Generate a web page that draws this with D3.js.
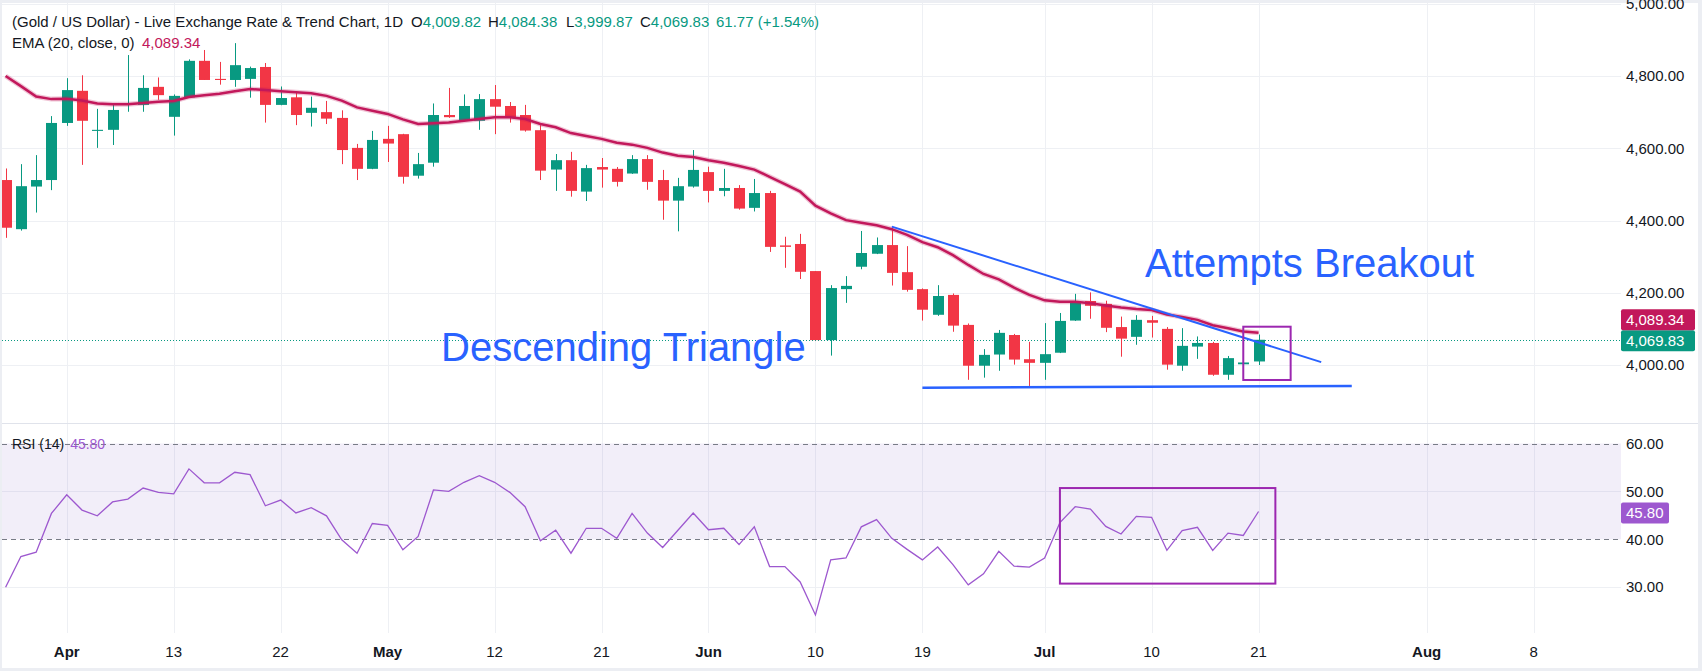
<!DOCTYPE html>
<html>
<head>
<meta charset="utf-8">
<script src="https://cdn.jsdelivr.net/npm/d3@7"></script>
<style>
  html, body { margin: 0; padding: 0; background: #eceef3; }
  svg { display: block; font-family: "Liberation Sans", Arial, sans-serif; }
</style>
</head>
<body>
<svg id="chart" width="1702" height="671"></svg>
<script>
// daily candles, bar index 0..82 (last bar = Jul 21)
var opens = [4512, 4376, 4494, 4512, 4670, 4759, 4648, 4651, 4720, 4720, 4770, 4687, 4741, 4842, 4792, 4789, 4792, 4825, 4720, 4741,
  4698, 4700, 4684, 4601, 4543, 4626, 4639, 4524, 4560, 4692, 4676, 4676, 4736, 4717, 4692, 4650, 4541, 4567, 4480, 4548,
  4543, 4530, 4570, 4512, 4455, 4494, 4534, 4482, 4490, 4435, 4476, 4331, 4335, 4260, 4069, 4210, 4272, 4308, 4332, 4257,
  4210, 4139, 4194, 4111, 3998, 4029, 4083, 4016, 4006, 4034, 4123, 4177, 4169, 4105, 4078, 4124, 4100, 3998, 4051, 4061,
  3973, 4002, 4009.82];
var highs = [4544, 4556, 4581, 4689, 4794, 4802, 4709, 4722, 4858, 4802, 4796, 4749, 4846, 4872, 4839, 4891, 4826, 4836, 4771, 4753,
  4743, 4731, 4705, 4612, 4648, 4662, 4640, 4587, 4724, 4767, 4749, 4750, 4775, 4728, 4720, 4664, 4584, 4590, 4554, 4573,
  4548, 4581, 4581, 4540, 4518, 4595, 4549, 4543, 4498, 4515, 4482, 4355, 4363, 4260, 4221, 4246, 4371, 4353, 4381, 4329,
  4212, 4221, 4198, 4115, 4044, 4097, 4086, 4064, 4116, 4144, 4197, 4201, 4178, 4134, 4138, 4136, 4105, 4102, 4079, 4064,
  4025, 4043, 4084.38];
var lows = [4352, 4372, 4422, 4484, 4662, 4554, 4601, 4609, 4701, 4701, 4734, 4635, 4740, 4789, 4776, 4770, 4740, 4671, 4719, 4664,
  4660, 4667, 4556, 4512, 4542, 4562, 4502, 4516, 4549, 4684, 4675, 4651, 4639, 4671, 4646, 4512, 4482, 4466, 4454, 4491,
  4494, 4529, 4485, 4402, 4370, 4491, 4450, 4467, 4430, 4425, 4313, 4269, 4238, 4069, 4026, 4172, 4265, 4307, 4220, 4203,
  4123, 4136, 4092, 3959, 3965, 3984, 4001, 3942, 3959, 4033, 4122, 4128, 4091, 4023, 4056, 4076, 3987, 3984, 4017, 3970,
  3959, 3986, 3999.87];
var closes = [4380, 4495, 4512, 4670, 4761, 4676, 4651, 4706, 4723, 4767, 4747, 4745, 4842, 4789, 4789, 4830, 4822, 4720, 4739, 4692,
  4712, 4682, 4595, 4543, 4623, 4613, 4521, 4556, 4692, 4686, 4717, 4736, 4715, 4686, 4649, 4538, 4567, 4482, 4545, 4541,
  4507, 4570, 4507, 4455, 4495, 4540, 4482, 4490, 4433, 4476, 4327, 4327, 4258, 4069, 4213, 4219, 4310, 4332, 4255, 4208,
  4153, 4191, 4109, 3998, 4028, 4089, 4015, 4006, 4030, 4122, 4175, 4164, 4103, 4073, 4125, 4117, 4001, 4053, 4061, 3973,
  4019, 4007, 4069.83];
var ema20 = [4800, 4772, 4743, 4736, 4737, 4732, 4724, 4722, 4722, 4725, 4729, 4731, 4742, 4747, 4751, 4758, 4764, 4761, 4758, 4755,
  4752, 4745, 4732, 4713, 4704, 4695, 4680, 4667, 4669, 4671, 4676, 4681, 4686, 4686, 4681, 4667, 4658, 4642, 4634, 4626,
  4615, 4610, 4601, 4588, 4579, 4576, 4567, 4560, 4551, 4541, 4521, 4501, 4480, 4441, 4420, 4401, 4394, 4387, 4376, 4360,
  4340, 4326, 4304, 4277, 4252, 4237, 4214, 4194, 4179, 4175, 4175, 4171, 4165, 4159, 4155, 4152, 4140, 4133, 4125, 4110,
  4102, 4093, 4089.34];
var rsi14 = [30.0, 36.4, 37.3, 45.4, 49.3, 46.1, 44.9, 47.8, 48.4, 50.7, 49.8, 49.5, 54.7, 51.8, 51.8, 54.0, 53.5, 47.0, 48.2, 45.5,
  46.6, 44.9, 39.9, 37.1, 43.3, 42.9, 37.8, 40.6, 50.3, 50.0, 51.9, 53.3, 51.9, 49.8, 46.8, 39.7, 41.9, 37.1, 42.3, 42.3,
  40.2, 45.4, 41.3, 38.3, 41.9, 45.5, 42.0, 42.3, 38.9, 42.6, 34.3, 34.3, 31.1, 24.2, 35.7, 36.1, 42.6, 44.1, 40.2, 37.9,
  35.7, 38.4, 34.7, 30.5, 32.8, 37.5, 34.4, 34.2, 36.1, 43.5, 46.8, 46.3, 42.7, 41.1, 44.8, 44.6, 37.7, 41.8, 42.5, 37.7,
  41.3, 40.8, 45.8];
var changeLabel = '61.77 (+1.54%)';

var timeTickIdx = [4, 11, 18, 25, 32, 39, 46, 53, 60, 68, 75, 82, 93, 100];
var timeTickLabels = ['Apr', '13', '22', 'May', '12', '21', 'Jun', '10', '19', 'Jul', '10', '21', 'Aug', '8'];
var priceTicks = [4000, 4200, 4400, 4600, 4800, 5000];
var rsiTicks = [30, 40, 50, 60];

// drawings, in [bar index, value]
var resistanceLine = [[58, 4383], [86.1, 4008]];
var supportLine = [[60, 3937], [88.1, 3942]];
var priceBox = [[81.0, 4106], [84.1, 3958.5]];
var rsiBox = [[69.0, 50.7], [83.1, 30.75]];
var notes = [
  {text: 'Descending Triangle', at: [28.5, 4012], size: 40},
  {text: 'Attempts Breakout', at: [74.57, 4244], size: 40}
];

var green = '#089981', red = '#f23645', emaColor = '#c2185b', rsiColor = '#9d58cf', blue = '#2962ff';
var plotRight = 1621;

var x = d3.scaleLinear().domain([0, 82]).range([5.6, 1258.56]);
var y = d3.scaleLinear().domain([4000, 4800]).range([365, 76]);
var yRsi = d3.scaleLinear().domain([40, 60]).range([539.3, 443.5]);
var fmt = d3.format(',.2f');

var svg = d3.select('#chart');
var defs = svg.append('defs');
defs.append('clipPath').attr('id', 'clipPrice').append('rect')
  .attr('x', 2).attr('y', 3).attr('width', plotRight - 2).attr('height', 420);
defs.append('clipPath').attr('id', 'clipRsi').append('rect')
  .attr('x', 2).attr('y', 424).attr('width', plotRight - 2).attr('height', 209);

svg.append('rect').attr('x', 2).attr('y', 3).attr('width', 1696).attr('height', 665).attr('fill', '#ffffff');

// grid
var grid = svg.append('g').attr('stroke', '#eef0f4').attr('stroke-width', 1);
grid.selectAll('line.v').data(timeTickIdx).join('line')
  .attr('x1', d => Math.round(x(d)) + 0.5).attr('x2', d => Math.round(x(d)) + 0.5)
  .attr('y1', 3).attr('y2', 633);
grid.selectAll('line.h').data(priceTicks).join('line')
  .attr('x1', 2).attr('x2', plotRight)
  .attr('y1', d => Math.round(y(d)) + 0.5).attr('y2', d => Math.round(y(d)) + 0.5);
grid.selectAll('line.r').data([30, 50]).join('line')
  .attr('x1', 2).attr('x2', plotRight)
  .attr('y1', d => Math.round(yRsi(d)) + 0.5).attr('y2', d => Math.round(yRsi(d)) + 0.5);

svg.append('line').attr('x1', 2).attr('x2', 1698).attr('y1', 423.5).attr('y2', 423.5)
  .attr('stroke', '#e0e3eb');

// price pane
var price = svg.append('g').attr('clip-path', 'url(#clipPrice)');
var bars = d3.range(closes.length);

price.append('line')
  .attr('x1', 2).attr('x2', plotRight)
  .attr('y1', Math.round(y(closes[82])) + 0.5).attr('y2', Math.round(y(closes[82])) + 0.5)
  .attr('stroke', green).attr('stroke-dasharray', '1,2');

price.selectAll('line.wick').data(bars).join('line')
  .attr('x1', i => Math.round(x(i)) + 0.5).attr('x2', i => Math.round(x(i)) + 0.5)
  .attr('y1', i => y(highs[i])).attr('y2', i => y(lows[i]))
  .attr('stroke', i => closes[i] >= opens[i] ? green : red);

price.selectAll('rect.body').data(bars).join('rect')
  .attr('x', i => Math.round(x(i)) - 5)
  .attr('width', 11)
  .attr('y', i => y(Math.max(opens[i], closes[i])))
  .attr('height', i => Math.max(1, Math.abs(y(opens[i]) - y(closes[i]))))
  .attr('fill', i => closes[i] >= opens[i] ? green : red);

var emaLine = d3.line().x((d, i) => x(i)).y(d => y(d));
price.append('path').datum(ema20)
  .attr('d', emaLine).attr('fill', 'none')
  .attr('stroke', emaColor).attr('stroke-opacity', 0.25).attr('stroke-width', 5);
price.append('path').datum(ema20)
  .attr('d', emaLine).attr('fill', 'none')
  .attr('stroke', emaColor).attr('stroke-width', 2.5);

var seg = d3.line().x(d => x(d[0])).y(d => y(d[1]));
price.append('path').datum(resistanceLine).attr('d', seg)
  .attr('stroke', blue).attr('stroke-width', 2).attr('fill', 'none');
price.append('path').datum(supportLine).attr('d', seg)
  .attr('stroke', blue).attr('stroke-width', 2.5).attr('fill', 'none');

price.append('rect')
  .attr('x', x(priceBox[0][0])).attr('y', y(priceBox[0][1]))
  .attr('width', x(priceBox[1][0]) - x(priceBox[0][0]))
  .attr('height', y(priceBox[1][1]) - y(priceBox[0][1]))
  .attr('fill', 'none').attr('stroke', '#9c27b0').attr('stroke-width', 2);

price.selectAll('text.note').data(notes).join('text')
  .attr('x', d => x(d.at[0])).attr('y', d => y(d.at[1]))
  .attr('fill', blue).style('font-size', d => d.size + 'px')
  .text(d => d.text);

// legend
var head = svg.append('g').style('font-size', '15px').attr('fill', '#131722');
head.append('text').attr('x', 12).attr('y', 27)
  .text('(Gold / US Dollar) - Live Exchange Rate & Trend Chart, 1D');
var ohlc = [['O', opens[82], 411], ['H', highs[82], 488], ['L', lows[82], 566], ['C', closes[82], 640]];
ohlc.forEach(function(d) {
  var t = head.append('text').attr('x', d[2]).attr('y', 27);
  t.append('tspan').text(d[0]);
  t.append('tspan').attr('fill', green).text(fmt(d[1]));
});
head.append('text').attr('x', 716).attr('y', 27).attr('fill', green).text(changeLabel);
var emaText = head.append('text').attr('x', 12).attr('y', 48);
emaText.append('tspan').text('EMA (20, close, 0)');
emaText.append('tspan').attr('x', 142).attr('fill', emaColor).text(fmt(ema20[82]));

// rsi pane
var rsiG = svg.append('g').attr('clip-path', 'url(#clipRsi)');
rsiG.append('rect')
  .attr('x', 2).attr('width', plotRight - 2)
  .attr('y', yRsi(60)).attr('height', yRsi(40) - yRsi(60))
  .attr('fill', 'rgba(126,87,194,0.1)');
rsiG.selectAll('line.band').data([60, 40]).join('line')
  .attr('x1', 2).attr('x2', plotRight)
  .attr('y1', d => Math.round(yRsi(d)) + 0.5).attr('y2', d => Math.round(yRsi(d)) + 0.5)
  .attr('stroke', '#787b86').attr('stroke-dasharray', '5,4');
rsiG.append('path').datum(rsi14)
  .attr('d', d3.line().x((d, i) => x(i)).y(d => yRsi(d)))
  .attr('fill', 'none').attr('stroke', rsiColor).attr('stroke-width', 1.3);
rsiG.append('rect')
  .attr('x', x(rsiBox[0][0])).attr('y', yRsi(rsiBox[0][1]))
  .attr('width', x(rsiBox[1][0]) - x(rsiBox[0][0]))
  .attr('height', yRsi(rsiBox[1][1]) - yRsi(rsiBox[0][1]))
  .attr('fill', 'none').attr('stroke', '#9c27b0').attr('stroke-width', 2);

var rsiLabel = svg.append('text').attr('x', 12).attr('y', yRsi(60) + 5).style('font-size', '14px');
rsiLabel.append('tspan').attr('fill', '#131722').text('RSI (14)');
rsiLabel.append('tspan').attr('dx', 6).attr('fill', rsiColor).text(rsi14[82].toFixed(2));

// right axis
var axisG = svg.append('g').style('font-size', '15px').attr('fill', '#131722');
axisG.selectAll('text.p').data(priceTicks).join('text')
  .attr('x', 1626).attr('y', d => y(d)).attr('dy', '0.35em').text(d => fmt(d));
axisG.selectAll('text.r').data(rsiTicks).join('text')
  .attr('x', 1626).attr('y', d => yRsi(d)).attr('dy', '0.35em').text(d => d.toFixed(2));

var closeY = y(closes[82]) + 1;
var tags = [
  {v: fmt(closes[82]), c: green, top: closeY - 10.5, w: 74},
  {v: fmt(ema20[82]), c: emaColor, top: closeY - 31.5, w: 74},
  {v: rsi14[82].toFixed(2), c: rsiColor, top: yRsi(rsi14[82]) - 9, w: 48}
];
var tagG = svg.append('g').selectAll('g').data(tags).join('g');
tagG.append('rect').attr('x', plotRight).attr('y', d => d.top)
  .attr('width', d => d.w).attr('height', 21).attr('rx', 2).attr('fill', d => d.c);
tagG.append('text').attr('x', 1626).attr('y', d => d.top + 10.5).attr('dy', '0.35em')
  .attr('fill', '#ffffff').style('font-size', '15px').text(d => d.v);

// time axis
svg.append('g').selectAll('text').data(timeTickIdx).join('text')
  .attr('x', d => x(d)).attr('y', 652).attr('dy', '0.35em')
  .attr('text-anchor', 'middle').attr('fill', '#131722')
  .style('font-size', '15px')
  .style('font-weight', (d, i) => isNaN(+timeTickLabels[i]) ? 'bold' : 'normal')
  .text((d, i) => timeTickLabels[i]);

svg.node();
</script>
</body>
</html>
